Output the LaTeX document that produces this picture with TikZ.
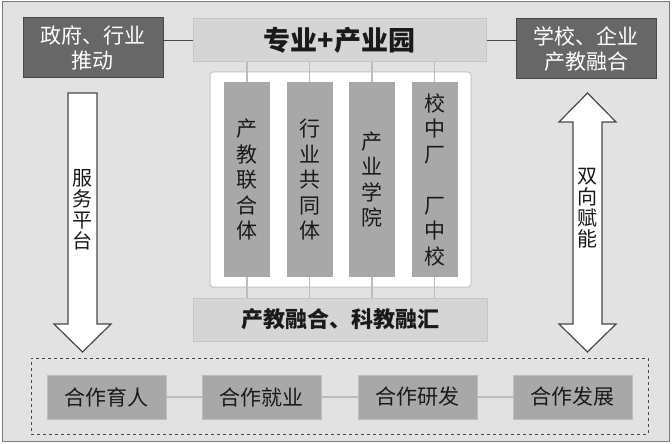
\documentclass[tikz,border=0pt]{standalone}
\usepackage{fontspec}
\setmainfont{Noto Sans CJK SC}
\usetikzlibrary{positioning, calc}
\definecolor{ink}{HTML}{1A1A1A}
\definecolor{frame}{HTML}{7A7A7A}
\definecolor{paper}{HTML}{E2E2E2}
\definecolor{dark}{HTML}{676767}
\definecolor{darkline}{HTML}{484848}
\definecolor{pale}{HTML}{D5D5D5}
\definecolor{paleline}{HTML}{C6C6C6}
\definecolor{mid}{HTML}{A8A8A8}
\definecolor{tie}{HTML}{BDBDBD}
\tikzset{
  every node/.style = {text=ink},
  cjbase/.style   = {draw, align=center, inner sep=0pt, font=\fontsize{21}{25}\selectfont},
  cjdark/.style   = {cjbase, draw=darkline, fill=dark, text=white, line width=1pt,
                     minimum width=140, minimum height=60},
  cjhead/.style   = {cjbase, draw=paleline, fill=pale, line width=1pt, minimum width=293,
                     minimum height=43, font=\fontsize{22}{26}\selectfont\bfseries},
  cjpanel/.style  = {draw=paleline, fill=white, line width=1pt, rounded corners=3pt,
                     minimum width=261, minimum height=215},
  cjcol/.style    = {cjbase, draw=none, fill=mid, minimum width=46, minimum height=195,
                     font=\fontsize{21}{25.5}\selectfont},
  cjgoal/.style   = {cjbase, draw=tie, fill=mid, line width=1pt, minimum width=119,
                     minimum height=44},
  cjzone/.style   = {draw=darkline, dashed, line width=1pt, minimum width=617, minimum height=76},
  cjarrow/.style  = {draw=darkline, fill=white, line width=1.2pt, line join=miter},
  cjvert/.style   = {align=center, inner sep=0pt, font=\fontsize{20}{21}\selectfont},
  cjlink/.style   = {draw=darkline, line width=1pt},
  cjtie/.style    = {draw=tie, line width=1.5pt},
}

\begin{document}
\begin{tikzpicture}[x=1pt, y=-1pt]
\useasboundingbox (0,0) rectangle (672,444);
\draw[frame, fill=paper, line width=1.5pt] (2.5,1.5) rectangle (669.5,441.5);

\node[cjdark] (gov)    at (93,47.5)   {政府、行业\\推动};
\node[cjhead, font=\fontsize{27}{30}\selectfont\bfseries] (park) at (339.5,40.5) {专业+产业园};
\node[cjdark] (school) at (586,48.5)  {学校、企业\\产教融合};

\node[cjpanel] (panel) at (340.5,179.5) {};
\node[cjcol] (c1) at (247,179.5)   {产\\教\\联\\合\\体};
\node[cjcol] (c2) at (309.5,179.5) {行\\业\\共\\同\\体};
\node[cjcol] (c3) at (372,179.5)   {产\\业\\学\\院};
\node[cjcol] (c4) at (434.5,179.5) {校\\中\\厂\\[25.5pt]厂\\中\\校};

\node[cjhead, minimum width=294] (fuse) at (340,319.5) {产教融合、科教融汇};

% two block arrows at the sides
\draw[cjarrow] (68,93) -- (97,93) -- (97,324) -- (111,324) -- (82.5,352)
  -- (54,324) -- (68,324) -- cycle;
\node[cjvert] (serve) at (82.5,210) {服\\务\\平\\台};
\draw[cjarrow] (587.5,93) -- (616,122) -- (602,122) -- (602,324) -- (616,324)
  -- (587.5,352) -- (559,324) -- (573,324) -- (573,122) -- (559,122) -- cycle;
\node[cjvert] (both) at (587.5,208) {双\\向\\赋\\能};

\node[cjzone] (zone) at (339.5,396) {};
\node[cjgoal] (g1) at (106.5,397) {合作育人};
\node[cjgoal] (g2) at (261.5,397) {合作就业};
\node[cjgoal] (g3) at (417.5,397) {合作研发};
\node[cjgoal] (g4) at (572.5,397) {合作发展};

\draw[cjlink] (park.west -| gov.east) -- (park.west);
\draw[cjlink] (park.east) -- (park.east -| school.west);
\foreach \c in {c1,c2,c3,c4} {
  \draw[cjtie] (\c.north) -- (\c.north |- park.south);
  \draw[cjtie] (\c.south) -- (\c.south |- fuse.north);
}
\draw[cjtie] (g1) -- (g2);
\draw[cjtie] (g2) -- (g3);
\draw[cjtie] (g3) -- (g4);
\end{tikzpicture}
\end{document}
